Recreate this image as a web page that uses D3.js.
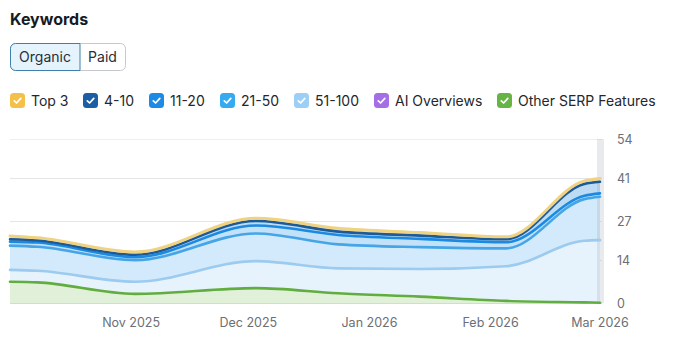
<!DOCTYPE html>
<html>
<head>
<meta charset="utf-8">
<script src="https://cdn.jsdelivr.net/npm/d3@7"></script>
<style>
  html, body { margin: 0; padding: 0; background: #fff; }
  body { width: 687px; height: 339px; overflow: hidden; font-family: Inter, "Noto Sans", sans-serif; }
  svg { display: block; }
</style>
</head>
<body>
<svg id="chart" width="687" height="339"></svg>
<script>
// Keyword counts by ranking bucket (stacked), plus SERP features (separate)
const dates      = ["2025-10-01","2025-10-08","2025-11-02","2025-12-03","2025-12-24","2026-01-14","2026-02-05","2026-02-25","2026-03-01"];
const top3       = [1.1, 0.9, 0.9, 0.9, 1.1, 1.0, 0.8, 1.0, 1.1];
const pos4to10   = [0.8, 0.7, 0.8, 1.5, 1.1, 1.1, 1.0, 3.9, 3.8];
const pos11to20  = [1.3, 1.4, 1.0, 2.6, 3.1, 2.7, 2.0, 1.1, 1.1];
const pos21to50  = [8.0, 7.9, 7.1, 9.1, 7.9, 7.2, 5.9, 13.7, 14.3];
const pos51to100 = [10.9, 10.6, 7.0, 13.8, 11.4, 11.2, 12.1, 20.5, 20.7];
const otherSerp  = [7.0, 6.8, 3.0, 4.9, 3.2, 2.1, 0.7, 0.2, 0.1];

const legendLabels = ["Top 3", "4-10", "11-20", "21-50", "51-100", "AI Overviews", "Other SERP Features"];
const xTicks = ["2025-11-01","2025-12-01","2026-01-01","2026-02-01","2026-03-01"];
const yTicks = [0, 14, 27, 41, 54];
const yMax = 54;

const parse = d3.timeParse("%Y-%m-%d");
const rows = dates.map((d, i) => ({
  date: parse(d),
  top3: top3[i], p4: pos4to10[i], p11: pos11to20[i], p21: pos21to50[i], p51: pos51to100[i],
  serp: otherSerp[i]
}));

const svg = d3.select("#chart");

// Header
svg.append("text").attr("x", 10).attr("y", 25)
  .attr("font-size", 16).attr("font-weight", 700).attr("fill", "#171a22")
  .text("Keywords");

// Organic / Paid toggle
const tg = svg.append("g");
tg.append("rect").attr("x", 10.5).attr("y", 43.5).attr("width", 115).attr("height", 27)
  .attr("rx", 5).attr("fill", "#fff").attr("stroke", "#c5c9ce");
tg.append("path")
  .attr("d", "M80,43.5 H15.5 a5,5 0 0 0 -5,5 V65.5 a5,5 0 0 0 5,5 H80 Z")
  .attr("fill", "#e5f3fd").attr("stroke", "#3f7faa");
tg.append("text").attr("x", 45).attr("y", 62).attr("text-anchor", "middle")
  .attr("font-size", 14).attr("fill", "#2a2e35").text("Organic");
tg.append("text").attr("x", 102.5).attr("y", 62).attr("text-anchor", "middle")
  .attr("font-size", 14).attr("fill", "#2a2e35").text("Paid");

// Legend
const legendColors = ["#f5c04a", "#1b5ea6", "#1d8be6", "#35aaf0", "#9ccef6", "#a46ee6", "#66b443"];
const legendX = [10, 83, 149, 220, 294, 374, 497];
const lg = svg.append("g");
legendLabels.forEach((label, i) => {
  const g = lg.append("g").attr("transform", `translate(${legendX[i]},93)`);
  g.append("rect").attr("width", 15).attr("height", 15).attr("rx", 3.5).attr("fill", legendColors[i]);
  g.append("path").attr("d", "M4.3,7.8 L6.6,10 L10.8,5.4")
    .attr("fill", "none").attr("stroke", "#fff").attr("stroke-width", 1.7)
    .attr("stroke-linecap", "round").attr("stroke-linejoin", "round");
  g.append("text").attr("x", 21).attr("y", 12.5).attr("font-size", 14).attr("fill", "#24272d").text(label);
});

// Scales
const x = d3.scaleTime()
  .domain([parse("2025-10-01"), parse("2026-03-01")])
  .range([10, 600]);
const y = d3.scaleLinear().domain([0, yMax]).range([303, 139]);

// Gridlines
const grid = svg.append("g");
yTicks.forEach(t => {
  grid.append("line")
    .attr("x1", 10).attr("x2", 602)
    .attr("y1", Math.round(y(t)) + 0.5).attr("y2", Math.round(y(t)) + 0.5)
    .attr("stroke", t === 0 ? "#d6d8da" : (t === yMax ? "#eeeeee" : "#e4e5e6"))
    .attr("stroke-width", 1);
});

// Stacked ranking buckets, bottom to top
const keys = ["p51", "p21", "p11", "p4", "top3"];
const fills = {
  p51: "#e6f3fd", p21: "#d2eafb", p11: "#c3e2f9", p4: "#bddcf4", top3: "#e9ddb8"
};
const strokes = {
  p51: "#9ccbef", p21: "#45a5e6", p11: "#1a8ae2", p4: "#1d5b98", top3: "#f0d283"
};
const widths = { p51: 2.6, p21: 2.6, p11: 2.6, p4: 2.6, top3: 3 };

const series = d3.stack().keys(keys)(rows);
const curve = d3.curveMonotoneX;

const area = d3.area().curve(curve)
  .x(d => x(d.data.date)).y0(d => y(d[0])).y1(d => y(d[1]));
const topLine = d3.line().curve(curve)
  .x(d => x(d.data.date)).y(d => y(d[1]));

const plot = svg.append("g");
series.forEach(s => {
  plot.append("path").attr("d", area(s)).attr("fill", fills[s.key]);
});

// SERP features drawn on its own from the baseline
const serpArea = d3.area().curve(curve)
  .x(d => x(d.date)).y0(y(0)).y1(d => y(d.serp));
const serpLine = d3.line().curve(curve)
  .x(d => x(d.date)).y(d => y(d.serp));
plot.append("path").attr("d", serpArea(rows)).attr("fill", "#e1f1d9");

// Hover marker at the latest date
const last = rows[rows.length - 1].date;
plot.append("rect")
  .attr("x", x(last) - 3).attr("y", y(yMax)).attr("width", 7).attr("height", y(0) - y(yMax))
  .attr("fill", "#8a96a3").attr("fill-opacity", 0.2);

series.forEach(s => {
  plot.append("path").attr("d", topLine(s))
    .attr("fill", "none").attr("stroke", strokes[s.key]).attr("stroke-width", widths[s.key])
    .attr("stroke-linejoin", "round").attr("stroke-linecap", "round");
});
plot.append("path").attr("d", serpLine(rows))
  .attr("fill", "none").attr("stroke", "#62ad3f").attr("stroke-width", 2.6)
  .attr("stroke-linecap", "round");

// Axes labels
const fmt = d3.timeFormat("%b %Y");
const ax = svg.append("g").attr("font-size", 12.5).attr("fill", "#6c6f74");
xTicks.forEach(t => {
  ax.append("text").attr("x", x(parse(t))).attr("y", 327).attr("text-anchor", "middle").text(fmt(parse(t)));
});
yTicks.forEach(t => {
  ax.append("text").attr("x", 617).attr("y", y(t) + 4.5).text(t);
});
</script>
</body>
</html>
